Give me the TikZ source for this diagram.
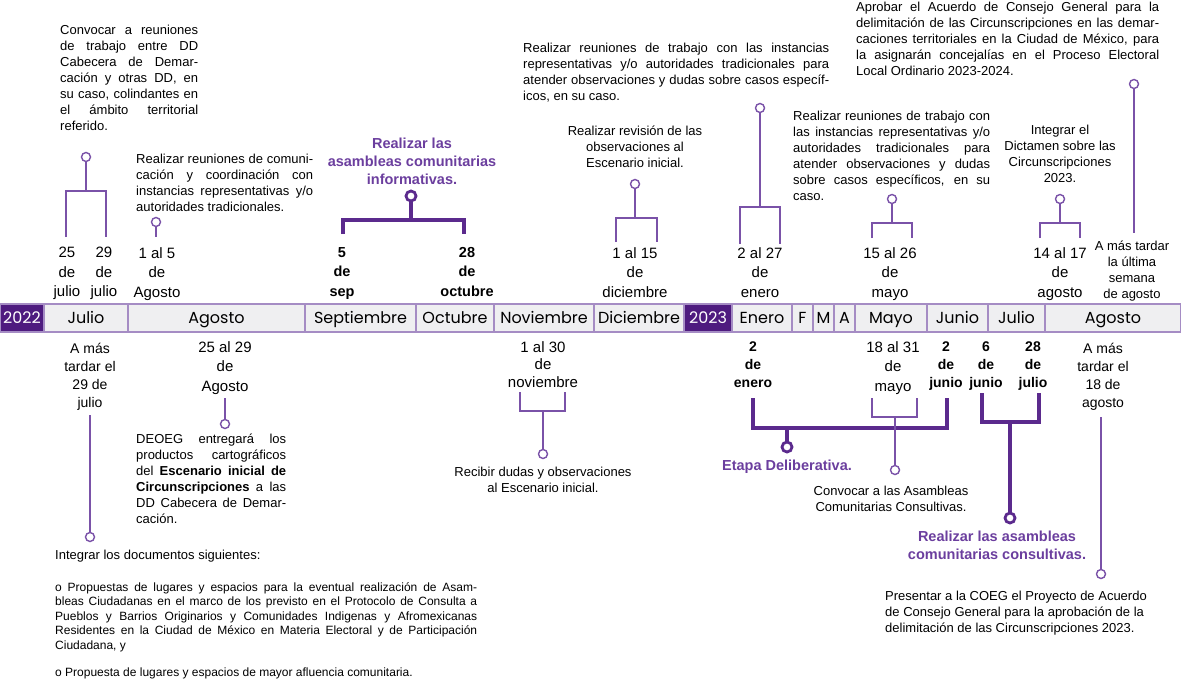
\documentclass[tikz,border=0pt]{standalone}
\usepackage{fontspec}
\setmainfont{Liberation Sans}
\newfontfamily\barfont{Poppins}
\usepackage{tikz}
\definecolor{tlyear}{HTML}{4E1B7F}
\definecolor{tlcell}{HTML}{EFEFF1}
\definecolor{tlframe}{HTML}{A58CC4}
\definecolor{tlline}{HTML}{7A52A8}
\definecolor{tldark}{HTML}{5B2A8D}
\definecolor{tlhead}{HTML}{6B3E9E}
\tolerance=9999
\hbadness=10000

\begin{document}
\begin{tikzpicture}[
  x=1pt, y=-1pt,
  cell/.style={
    rectangle,
    draw=tlframe,
    fill=tlcell,
    line width=1.5pt,
    minimum height=28pt,
    inner sep=0pt,
    text height=11pt,
    text depth=0pt,
    font=\barfont\fontsize{16}{18}\selectfont
  },
  year/.style={cell, fill=tlyear, text=white},
  dot/.style={
    circle,
    draw=tlline,
    fill=white,
    line width=1.4pt,
    minimum size=9pt,
    inner sep=0pt
  },
  bigdot/.style={dot, draw=tldark, line width=2.8pt, minimum size=10pt},
  link/.style={draw=tlline, line width=1.8pt},
  biglink/.style={draw=tldark, line width=3.2pt},
  note/.style={
    anchor=north west,
    inner sep=0pt,
    align=justify,
    font=\fontsize{13}{16}\selectfont
  },
  plain/.style={anchor=north, inner sep=0pt, align=center, font=\fontsize{13}{16}\selectfont},
  when/.style={anchor=north, inner sep=0pt, align=center, font=\fontsize{15}{19.5}\selectfont},
  boldwhen/.style={when, font=\bfseries\fontsize{14.5}{19.5}\selectfont},
  late/.style={when, font=\fontsize{14}{18}\selectfont},
  head/.style={
    anchor=north,
    inner sep=0pt,
    align=center,
    text=tlhead,
    font=\bfseries\fontsize{14.5}{18}\selectfont
  }
]
  \useasboundingbox (0,0) rectangle (1182,680);

  % Month bar
  \node[year, minimum width=44pt] (y22) at (22,318) {2022};
  \node[cell, minimum width=84pt] (jul22) at (86,318) {Julio};
  \node[cell, minimum width=177pt] (ago22) at (216.5,318) {Agosto};
  \node[cell, minimum width=111pt] (sep22) at (360.5,318) {Septiembre};
  \node[cell, minimum width=78pt] (oct22) at (455,318) {Octubre};
  \node[cell, minimum width=100pt] (nov22) at (544,318) {Noviembre};
  \node[cell, minimum width=90pt] (dic22) at (639,318) {Diciembre};
  \node[year, minimum width=48pt] (y23) at (708,318) {2023};
  \node[cell, minimum width=60pt] (ene23) at (762,318) {Enero};
  \node[cell, minimum width=21pt] (feb23) at (802.5,318) {F};
  \node[cell, minimum width=21pt] (mar23) at (823.5,318) {M};
  \node[cell, minimum width=21pt] (abr23) at (844.5,318) {A};
  \node[cell, minimum width=72pt] (may23) at (891,318) {Mayo};
  \node[cell, minimum width=61pt] (jun23) at (957.5,318) {Junio};
  \node[cell, minimum width=57pt] (jul23) at (1016.5,318) {Julio};
  \node[cell, minimum width=135pt] (ago23) at (1113,318) {Agosto};

  % Above the bar: texts
  \node[note, text width=138pt] (convocar) at (60,25) {Convocar a reuniones\linebreak de trabajo entre DD\linebreak Cabecera de Demar-\linebreak cación y otras DD, en\linebreak su caso, colindantes en\linebreak el ámbito territorial\linebreak referido.};
  \node[note, text width=177pt] (comunic) at (136,154) {Realizar reuniones de comuni-\linebreak cación y coordinación con\linebreak instancias representativas y/o\linebreak autoridades tradicionales.};
  \node[head] (informa) at (412,138) {Realizar las\\asambleas comunitarias\\informativas.};
  \node[note, text width=306pt] (trabajo1) at (523,43) {Realizar reuniones de trabajo con las instancias\linebreak representativas y/o autoridades tradicionales para\linebreak atender observaciones y dudas sobre casos específ-\linebreak icos, en su caso.};
  \node[plain] (revision) at (635,126) {Realizar revisión de las\\observaciones al\\Escenario inicial.};
  \node[note, text width=197pt] (trabajo2) at (793,111) {Realizar reuniones de trabajo con\linebreak las instancias representativas y/o\linebreak autoridades tradicionales para\linebreak atender observaciones y dudas\linebreak sobre casos específicos, en su\linebreak caso.};
  \node[plain] (dictamen) at (1060,125) {Integrar el\\Dictamen sobre las\\Circunscripciones\\2023.};
  \node[note, text width=303pt] (aprobar) at (856,2) {Aprobar el Acuerdo de Consejo General para la\linebreak delimitación de las Circunscripciones en las demar-\linebreak caciones territoriales en la Ciudad de México, para\linebreak la asignarán concejalías en el Proceso Electoral\linebreak Local Ordinario 2023-2024.};

  % Above the bar: dates
  \node[when] (d25jul) at (67,247) {25\\de\\julio};
  \node[when] (d29jul) at (104,247) {29\\de\\julio};
  \node[when] (d1ago) at (157,247) {1 al 5\\de\\Agosto};
  \node[boldwhen] (d5sep) at (342,247) {5\\de\\sep};
  \node[boldwhen] (d28oct) at (467,247) {28\\de\\octubre};
  \node[when] (d1dic) at (635,247) {1 al 15\\de\\diciembre};
  \node[when] (d2ene) at (760,247) {2 al 27\\de\\enero};
  \node[when] (d15may) at (890,247) {15 al 26\\de\\mayo};
  \node[when] (d14ago) at (1060,247) {14 al 17\\de\\agosto};
  \node[plain] (dlast) at (1132,241) {A más tardar\\la última\\semana\\de agosto};

  % Above the bar: connectors
  \node[dot] (cA) at (86,157) {};
  \coordinate (aK) at (86,191);
  \coordinate (aL) at (66,237);
  \coordinate (aR) at (106,237);
  \draw[link] (aL) -- (aL |- aK) -- (aR |- aK) -- (aR);
  \draw[link] (cA) -- (aK);

  \node[dot] (cB) at (156,222) {};
  \coordinate (bE) at (156,237);
  \draw[link] (cB) -- (bE);

  \node[bigdot] (cC) at (411,196) {};
  \coordinate (cK) at (411,220);
  \coordinate (cL) at (343,234);
  \coordinate (cR) at (464,234);
  \draw[biglink] (cL) -- (cL |- cK) -- (cR |- cK) -- (cR);
  \draw[biglink] (cC) -- (cK);

  \node[dot] (cD) at (760,108) {};
  \coordinate (dK) at (760,207);
  \coordinate (dL) at (740,244);
  \coordinate (dR) at (780,244);
  \draw[link] (dL) -- (dL |- dK) -- (dR |- dK) -- (dR);
  \draw[link] (cD) -- (dK);

  \node[dot] (cE) at (635,184) {};
  \coordinate (eK) at (635,218);
  \coordinate (eL) at (616,242);
  \coordinate (eR) at (657,242);
  \draw[link] (eL) -- (eL |- eK) -- (eR |- eK) -- (eR);
  \draw[link] (cE) -- (eK);

  \node[dot] (cF) at (892,199) {};
  \coordinate (fK) at (892,223);
  \coordinate (fL) at (872,238);
  \coordinate (fR) at (912,238);
  \draw[link] (fL) -- (fL |- fK) -- (fR |- fK) -- (fR);
  \draw[link] (cF) -- (fK);

  \node[dot] (cG) at (1060,199) {};
  \coordinate (gK) at (1060,223);
  \coordinate (gL) at (1040,238);
  \coordinate (gR) at (1080,238);
  \draw[link] (gL) -- (gL |- gK) -- (gR |- gK) -- (gR);
  \draw[link] (cG) -- (gK);

  \node[dot] (cH) at (1134,84) {};
  \coordinate (hE) at (1134,233);
  \draw[link] (cH) -- (hE);

  % Below the bar: dates
  \node[late] (l29jul) at (90,343) {A más\\tardar el\\29 de\\julio};
  \node[when] (d25ago) at (225,341) {25 al 29\\de\\Agosto};
  \node[when, font=\fontsize{15}{17.5}\selectfont] (d1nov) at (543,341) {1 al 30\\de\\noviembre};
  \node[boldwhen, font=\bfseries\fontsize{14}{18}\selectfont] (b2ene) at (753,342) {2\\de\\enero};
  \node[when] (d18may) at (893,341) {18 al 31\\de\\mayo};
  \node[boldwhen, font=\bfseries\fontsize{14}{18}\selectfont] (b2jun) at (946,342) {2\\de\\junio};
  \node[boldwhen, font=\bfseries\fontsize{14}{18}\selectfont] (b6jun) at (986,342) {6\\de\\junio};
  \node[boldwhen, font=\bfseries\fontsize{14}{18}\selectfont] (b28jul) at (1033,342) {28\\de\\julio};
  \node[late] (l18ago) at (1103,343) {A más\\tardar el\\18 de\\agosto};

  % Below the bar: texts
  \node[note, text width=150pt] (deoeg) at (136,434) {DEOEG entregará los\linebreak productos cartográficos\linebreak del \textbf{Escenario inicial de\linebreak Circunscripciones} a las\linebreak DD Cabecera de Demar-\linebreak cación.};
  \node[plain] (recibir) at (543,467) {Recibir dudas y observaciones\\al Escenario inicial.};
  \node[head] (delib) at (787,460) {Etapa Deliberativa.};
  \node[plain] (convoca) at (891,486) {Convocar a las Asambleas\\Comunitarias Consultivas.};
  \node[head] (consulta) at (997,531) {Realizar las asambleas\\comunitarias consultivas.};
  \node[note, align=left] (presentar) at (885,591) {Presentar a la COEG el Proyecto de Acuerdo\\de Consejo General para la aprobación de la\\delimitación de las Circunscripciones 2023.};
  \node[note, align=left] (integrar) at (55,550) {Integrar los documentos siguientes:};
  \node[note, text width=422pt, font=\fontsize{12}{14.5}\selectfont] (prop1) at (55,582) {o Propuestas de lugares y espacios para la eventual realización de Asam-\linebreak bleas Ciudadanas en el marco de los previsto en el Protocolo de Consulta a\linebreak Pueblos y Barrios Originarios y Comunidades Indigenas y Afromexicanas\linebreak Residentes en la Ciudad de México en Materia Electoral y de Participación\linebreak Ciudadana, y};
  \node[note, align=left, font=\fontsize{12}{14.5}\selectfont] (prop2) at (55,668) {o Propuesta de lugares y espacios de mayor afluencia comunitaria.};

  % Below the bar: connectors
  \coordinate (iS) at (90,415);
  \node[dot] (cI) at (90,537) {};
  \draw[link] (iS) -- (cI);

  \coordinate (jS) at (225,398);
  \node[dot] (cJ) at (225,424) {};
  \draw[link] (jS) -- (cJ);

  \coordinate (kK) at (543,411);
  \coordinate (kL) at (520,392);
  \coordinate (kR) at (565,392);
  \node[dot] (cK) at (543,454) {};
  \draw[link] (kL) -- (kL |- kK) -- (kR |- kK) -- (kR);
  \draw[link] (kK) -- (cK);

  \coordinate (lK) at (787,428);
  \coordinate (lL) at (753,398);
  \coordinate (lR) at (947,398);
  \node[bigdot] (cL) at (787,447) {};
  \draw[biglink] (lL) -- (lL |- lK) -- (lR |- lK) -- (lR);
  \draw[biglink] (lK) -- (cL);

  \coordinate (mK) at (895,417);
  \coordinate (mL) at (872,398);
  \coordinate (mR) at (917,398);
  \node[dot] (cM) at (895,470) {};
  \draw[link] (mL) -- (mL |- mK) -- (mR |- mK) -- (mR);
  \draw[link] (mK) -- (cM);

  \coordinate (nK) at (1010,422);
  \coordinate (nL) at (982,393);
  \coordinate (nR) at (1039,393);
  \node[bigdot] (cN) at (1010,518) {};
  \draw[biglink] (nL) -- (nL |- nK) -- (nR |- nK) -- (nR);
  \draw[biglink] (nK) -- (cN);

  \coordinate (oS) at (1101,417);
  \node[dot] (cO) at (1101,574) {};
  \draw[link] (oS) -- (cO);
\end{tikzpicture}
\end{document}
